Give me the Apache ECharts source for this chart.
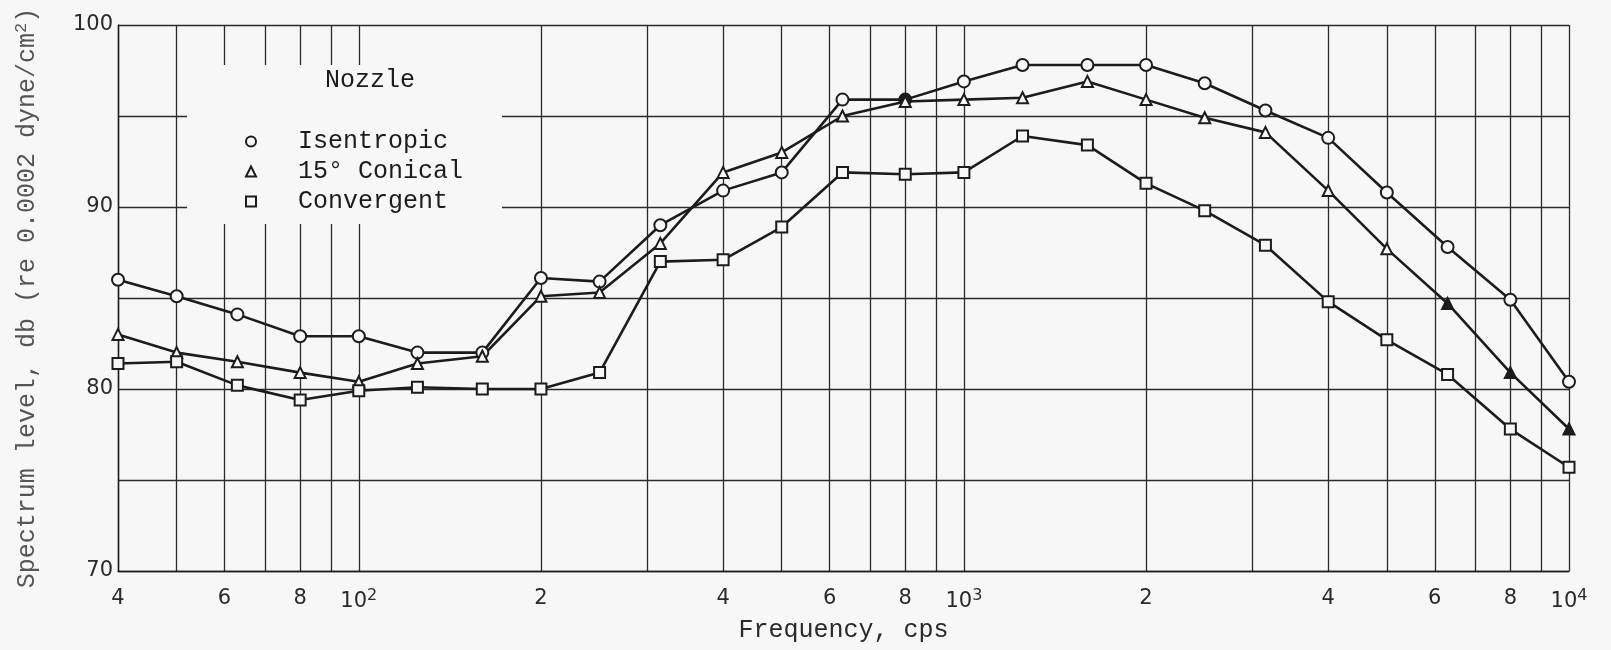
<!DOCTYPE html>
<html>
<head>
<meta charset="utf-8">
<script src="https://cdn.jsdelivr.net/npm/echarts@6/dist/echarts.min.js"></script>
<style>
  html, body { margin: 0; padding: 0; background: #f7f7f7; }
  #chart { width: 1611px; height: 650px; }
</style>
</head>
<body>
<div id="chart"></div>
<script>
// One-third-octave band centre frequencies, cps
const frequencies = [40, 50, 63, 80, 100, 125, 160, 200, 250, 315, 400, 500, 630,
                     800, 1000, 1250, 1600, 2000, 2500, 3150, 4000, 5000, 6300, 8000, 10000];

// Spectrum level, db (re 0.0002 dyne/cm^2) for each nozzle
const isentropic = [86.0, 85.1, 84.1, 82.9, 82.9, 82.0, 82.0, 86.1, 85.9, 89.0, 90.9, 91.9, 95.9,
                    95.9, 96.9, 97.8, 97.8, 97.8, 96.8, 95.3, 93.8, 90.8, 87.8, 84.9, 80.4];
const conical15  = [83.0, 82.0, 81.5, 80.9, 80.4, 81.4, 81.8, 85.1, 85.3, 88.0, 91.9, 93.0, 95.0,
                    95.8, 95.9, 96.0, 96.9, 95.9, 94.9, 94.1, 90.9, 87.7, 84.7, 80.9, 77.8];
const convergent = [81.4, 81.5, 80.2, 79.4, 79.9, 80.1, 80.0, 80.0, 80.9, 87.0, 87.1, 88.9, 91.9,
                    91.8, 91.9, 93.9, 93.4, 91.3, 89.8, 87.9, 84.8, 82.7, 80.8, 77.8, 75.7];

const seriesNames = ['Isentropic', '15° Conical', 'Convergent'];

// Frequency grid lines (log paper rulings) and labelled frequencies
const xGridValues = [40, 50, 60, 70, 80, 90, 100, 200, 300, 400, 500, 600, 700, 800, 900,
                     1000, 2000, 3000, 4000, 5000, 6000, 7000, 8000, 9000, 10000];
const xLabelValues = [40, 60, 80, 100, 200, 400, 600, 800, 1000, 2000, 4000, 6000, 8000, 10000];
const xLabelTexts  = ['4', '6', '8', '10{s|2}', '2', '4', '6', '8', '10{s|3}', '2', '4', '6', '8', '10{s|4}'];

const yMin = 70, yMax = 100, yStep = 5;

const BG = '#f7f7f7';
const INK = '#1c1c1c';
const MONO = '"Liberation Mono", "DejaVu Sans Mono", monospace';
const SANS = '"DejaVu Sans", "Liberation Sans", sans-serif';

// Marks inked solid on the sheet (series index -> point indices)
const solidMarks = { 0: [13], 1: [22, 23, 24] };

function lineSeries(idx, vals, symbol, size) {
  const solid = solidMarks[idx] || [];
  return {
    name: seriesNames[idx],
    type: 'line',
    data: frequencies.map((f, i) => solid.indexOf(i) >= 0
      ? { value: [f, vals[i]], itemStyle: { color: INK } }
      : [f, vals[i]]),
    symbol: symbol,
    symbolSize: size,
    showAllSymbol: true,
    lineStyle: { color: INK, width: 2.6 },
    itemStyle: { color: BG, borderColor: INK, borderWidth: 2 },
    emphasis: { disabled: true },
    animation: false,
    z: 3
  };
}

const chart = echarts.init(document.getElementById('chart'), null, { renderer: 'canvas' });

chart.setOption({
  backgroundColor: BG,
  animation: false,
  grid: { left: 118, right: 42, top: 25, bottom: 79 },
  title: {
    text: 'Nozzle',
    left: 325,
    top: 68,
    padding: 0,
    textStyle: { fontFamily: MONO, fontSize: 25, fontWeight: 'normal', color: INK }
  },
  legend: {
    orient: 'vertical',
    left: 245,
    top: 129,
    padding: 0,
    itemWidth: 10,
    itemHeight: 10,
    itemGap: 5,
    selectedMode: false,
    data: [
      { name: seriesNames[0], icon: 'circle' },
      { name: seriesNames[1], icon: 'triangle' },
      { name: seriesNames[2], icon: 'rect' }
    ],
    itemStyle: { color: BG, borderColor: INK, borderWidth: 2 },
    textStyle: { fontFamily: MONO, fontSize: 25, color: INK, padding: [0, 0, 0, 37] }
  },
  graphic: [{
    type: 'rect',
    z: 1,
    shape: { x: 187, y: 65, width: 315, height: 159 },
    style: { fill: BG },
    silent: true
  }],
  xAxis: {
    type: 'log',
    logBase: 10,
    min: 40,
    max: 10000,
    name: 'Frequency, cps',
    nameLocation: 'middle',
    nameGap: 44,
    nameTextStyle: { fontFamily: MONO, fontSize: 25, color: '#2a2a2a' },
    axisLine: { show: true, lineStyle: { color: INK, width: 1.4 } },
    axisTick: { show: false, customValues: xGridValues },
    splitLine: { show: true, lineStyle: { color: '#2a2a2a', width: 1.3 } },
    minorTick: { show: false },
    axisLabel: {
      customValues: xLabelValues,
      margin: 17,
      fontFamily: SANS,
      fontSize: 21,
      color: '#2a2a2a',
      formatter: function (v) {
        const i = xLabelValues.indexOf(Math.round(v));
        return i >= 0 ? xLabelTexts[i] : '';
      },
      rich: {
        s: { fontFamily: SANS, fontSize: 16, color: '#2a2a2a', verticalAlign: 'top', padding: [0, 0, 12, 0] }
      }
    }
  },
  yAxis: {
    type: 'value',
    min: yMin,
    max: yMax,
    interval: yStep,
    name: 'Spectrum level, db (re 0.0002 dyne/cm{s|2})',
    nameLocation: 'middle',
    nameGap: 76,
    nameTextStyle: {
      fontFamily: MONO, fontSize: 25, color: '#555',
      rich: { s: { fontFamily: MONO, fontSize: 17, color: '#555', verticalAlign: 'top', padding: [0, 0, 12, 0] } }
    },
    axisLine: { show: true, lineStyle: { color: INK, width: 1.4 } },
    axisTick: { show: false },
    splitLine: { show: true, lineStyle: { color: '#2a2a2a', width: 1.3 } },
    axisLabel: {
      margin: 5,
      fontFamily: SANS,
      fontSize: 21,
      color: '#2a2a2a',
      formatter: function (v) { return v % 10 === 0 ? String(v) : ''; }
    }
  },
  series: [
    lineSeries(0, isentropic, 'circle', 12),
    lineSeries(1, conical15, 'triangle', 11),
    lineSeries(2, convergent, 'rect', 11)
  ]
});
</script>
</body>
</html>
